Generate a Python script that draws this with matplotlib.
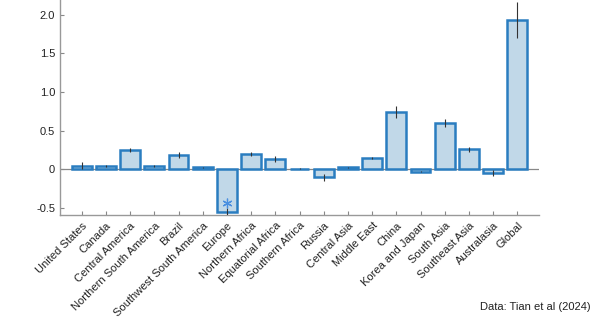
import matplotlib
matplotlib.use("Agg")
import matplotlib.pyplot as plt
import numpy as np

plt.rcParams['font.family'] = ['Liberation Sans', 'DejaVu Sans']

# regions and values
regions = ["United States", "Canada", "Central America", "Northern South America",
           "Brazil", "Southwest South America", "Europe", "Northern Africa",
           "Equatorial Africa", "Southern Africa", "Russia", "Central Asia",
           "Middle East", "China", "Korea and Japan", "South Asia",
           "Southeast Asia", "Australasia", "Global"]
values = [0.05, 0.045, 0.245, 0.04, 0.185, 0.025, -0.545, 0.2, 0.135, 0.01,
          -0.105, 0.025, 0.15, 0.74, -0.03, 0.6, 0.26, -0.045, 1.935]
errors = [0.05, 0.015, 0.025, 0.015, 0.035, 0.01, 0.04, 0.03, 0.035, 0.01,
          0.04, 0.01, 0.01, 0.08, 0.01, 0.055, 0.03, 0.04, 0.23]
star_region = "Europe"
star_y = -0.43
yticks = [-0.5, 0, 0.5, 1.0, 1.5, 2.0]
yticklabels = ["-0.5", "0", "0.5", "1.0", "1.5", "2.0"]

fig = plt.figure(figsize=(6.03, 3.28), dpi=100)
ax = fig.add_axes([0.0995, 0.3445, 0.7945, 0.6555])

x = np.arange(1, len(regions) + 1)
ax.bar(x, values, width=0.82, color="#c1d8e8", edgecolor="#2a7dc0",
       linewidth=1.8, zorder=2)
ax.errorbar(x, values, yerr=errors, fmt="none", ecolor="#333333",
            elinewidth=0.8, capsize=0, zorder=3)
ax.axhline(0, color="#888888", linewidth=0.9, zorder=1)

si = regions.index(star_region)
ax.plot([x[si]], [star_y], marker=(6, 2, 0), markersize=7,
        color="#4a8fe0", markeredgewidth=0.9, linestyle="none", zorder=4)

ax.set_xlim(0.1, 19.9)
ax.set_ylim(-0.59, 2.19)
ax.set_xticks(x)
ax.set_xticklabels(regions, rotation=45, ha="right", rotation_mode="anchor",
                   fontsize=8, color="#222222")
ax.set_yticks(yticks)
ax.set_yticklabels(yticklabels, fontsize=8, color="#222222")
ax.tick_params(direction="in", length=3, color="#888888", width=0.8)
ax.tick_params(axis="x", pad=4)

for side in ["top", "right"]:
    ax.spines[side].set_visible(False)
for side in ["left", "bottom"]:
    ax.spines[side].set_color("#999999")
    ax.spines[side].set_linewidth(1.0)

fig.text(0.98, 0.065, "Data: Tian et al (2024)", ha="right", va="center",
         fontsize=8, color="#222222")

fig.savefig("out.png", dpi=100)
